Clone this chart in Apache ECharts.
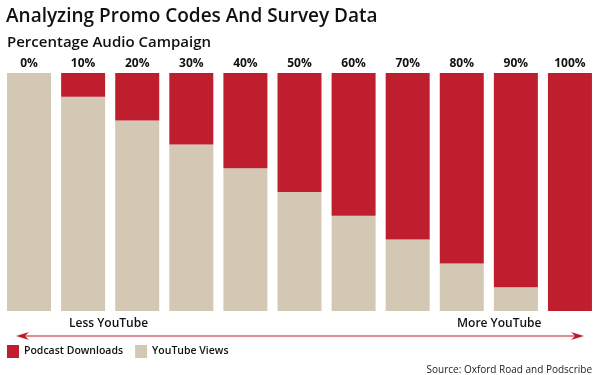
<!DOCTYPE html>
<html>
<head>
<meta charset="utf-8">
<script src="https://cdn.jsdelivr.net/npm/echarts@6/dist/echarts.min.js"></script>
<style>
html, body { margin: 0; padding: 0; background: #fff; }
#chart { width: 600px; height: 375px; }
</style>
</head>
<body>
<div id="chart"></div>
<script>
var categories = ['0%', '10%', '20%', '30%', '40%', '50%', '60%', '70%', '80%', '90%', '100%'];
var podcastDownloads = [0, 10, 20, 30, 40, 50, 60, 70, 80, 90, 100];
var youtubeViews = [100, 90, 80, 70, 60, 50, 40, 30, 20, 10, 0];

var red = '#be1e2d';
var beige = '#d3c8b4';
var font = '"Open Sans", sans-serif';

var chart = echarts.init(document.getElementById('chart'));

var option = {
	animation: false,
	textStyle: { fontFamily: font },
	title: [{
		text: 'Analyzing Promo Codes And Survey Data',
		left: 1,
		top: 2,
		textStyle: { fontFamily: font, fontSize: 19, fontWeight: 600, color: '#111' }
	}, {
		text: 'Percentage Audio Campaign',
		left: 2,
		top: 30,
		textStyle: { fontFamily: font, fontSize: 15, fontWeight: 600, color: '#111' }
	}, {
		text: 'Source: Oxford Road and Podscribe',
		right: 3,
		top: 360,
		textStyle: { fontFamily: font, fontSize: 10, fontWeight: 'normal', color: '#222' }
	}],
	legend: {
		left: 2,
		top: 340,
		itemWidth: 12,
		itemHeight: 13,
		itemGap: 12,
		icon: 'rect',
		textStyle: { fontFamily: font, fontSize: 10.5, fontWeight: 600, color: '#111' },
		data: ['Podcast Downloads', 'YouTube Views']
	},
	grid: { left: 2, right: 3, top: 73, bottom: 64 },
	xAxis: {
		type: 'category',
		position: 'top',
		data: categories,
		axisLine: { show: false },
		axisTick: { show: false },
		axisLabel: { fontFamily: font, fontSize: 12, fontWeight: 'bold', color: '#111', margin: 3 }
	},
	yAxis: {
		type: 'value',
		min: 0,
		max: 100,
		show: false
	},
	series: [{
		name: 'YouTube Views',
		type: 'bar',
		stack: 'total',
		barWidth: 44,
		itemStyle: { color: beige },
		data: youtubeViews
	}, {
		name: 'Podcast Downloads',
		type: 'bar',
		stack: 'total',
		barWidth: 44,
		itemStyle: { color: red },
		data: podcastDownloads
	}],
	graphic: [{
		type: 'line',
		shape: { x1: 22, y1: 336, x2: 578, y2: 336 },
		style: { stroke: red, lineWidth: 1.2 }
	}, {
		type: 'polygon',
		shape: { points: [[16, 336], [29, 332], [25, 336], [29, 340]] },
		style: { fill: red }
	}, {
		type: 'polygon',
		shape: { points: [[584, 336], [571, 332], [575, 336], [571, 340]] },
		style: { fill: red }
	}, {
		type: 'text',
		left: 69,
		top: 318,
		style: { text: 'Less YouTube', font: '600 12px ' + font, fill: '#111' }
	}, {
		type: 'text',
		left: 457,
		top: 318,
		style: { text: 'More YouTube', font: '600 12px ' + font, fill: '#111' }
	}]
};

chart.setOption(option);
</script>
</body>
</html>
